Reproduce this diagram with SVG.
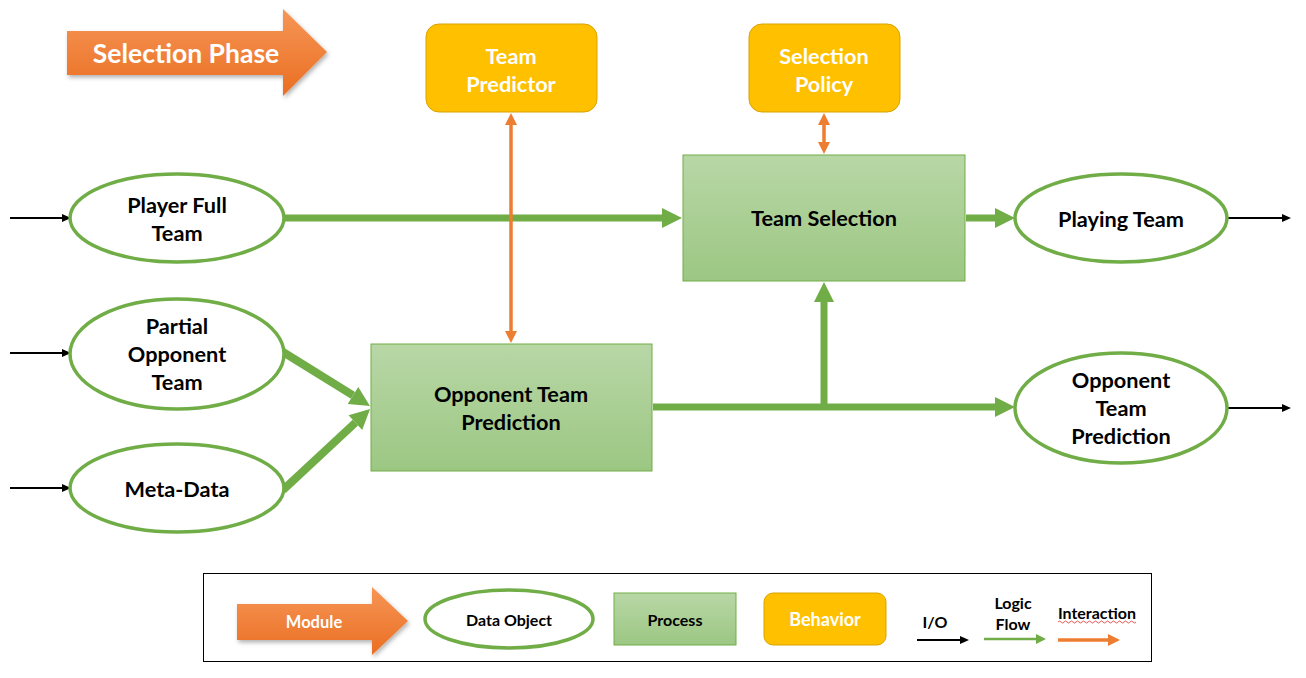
<svg xmlns="http://www.w3.org/2000/svg" width="1306" height="678" viewBox="0 0 1306 678">
<defs>
<style>
.t{font-family:Lato,"Liberation Sans",sans-serif;font-weight:bold;text-anchor:middle;dominant-baseline:central}
.m{font-size:21.7px}
.s{font-size:16px}
.w{fill:#fff}
.k{fill:#000}
.ell{fill:#fff;stroke:#70AD47;stroke-width:3.5}
.proc{fill:url(#gg);stroke:#70AD47;stroke-width:1}
.beh{fill:#FFC000;stroke:#D9A300;stroke-width:1}
.g{stroke:#70AD47;fill:none}
.o{stroke:#ED7D31;fill:none;stroke-width:3.5}
.b{stroke:#000;fill:none;stroke-width:2}
</style>
<linearGradient id="gg" x1="0" y1="0" x2="0" y2="1"><stop offset="0" stop-color="#B8D7A6"/><stop offset="1" stop-color="#9CC783"/></linearGradient>
<linearGradient id="og" x1="0" y1="0" x2="0" y2="1"><stop offset="0" stop-color="#F69656"/><stop offset="1" stop-color="#EA6E22"/></linearGradient>
<filter id="sh" x="-10%" y="-10%" width="130%" height="140%"><feDropShadow dx="1.5" dy="2.5" stdDeviation="2" flood-color="#000" flood-opacity="0.3"/></filter>
<marker id="gh" markerUnits="userSpaceOnUse" markerWidth="22" markerHeight="22" refX="0" refY="10" orient="auto" overflow="visible"><path d="M0,0 L20,10 L0,20 z" fill="#70AD47"/></marker>
<marker id="ghs" markerUnits="userSpaceOnUse" markerWidth="14" markerHeight="14" refX="0" refY="5" orient="auto" overflow="visible"><path d="M0,0 L10,5 L0,10 z" fill="#70AD47"/></marker>
<marker id="oh" markerUnits="userSpaceOnUse" markerWidth="14" markerHeight="14" refX="0" refY="6" orient="auto-start-reverse" overflow="visible"><path d="M0,0 L12,6 L0,12 z" fill="#ED7D31"/></marker>
<marker id="bh" markerUnits="userSpaceOnUse" markerWidth="10" markerHeight="10" refX="0" refY="4" orient="auto" overflow="visible"><path d="M0,0 L9,4 L0,8 z" fill="#000"/></marker>
</defs>
<rect width="1306" height="678" fill="#fff"/>

<g id="phase">
<path d="M67,31 L283,31 L283,9 L327,52 L283,96 L283,75 L67,75 z" fill="url(#og)" filter="url(#sh)"/>
<text class="t w" x="186" y="53" font-size="26.5">Selection Phase</text>
</g>

<g id="connectors">
<line class="b" x1="10" y1="218" x2="62" y2="218" marker-end="url(#bh)"/>
<line class="b" x1="10" y1="353" x2="62" y2="353" marker-end="url(#bh)"/>
<line class="b" x1="10" y1="488" x2="62" y2="488" marker-end="url(#bh)"/>
<line class="b" x1="1228" y1="218" x2="1282" y2="218" marker-end="url(#bh)"/>
<line class="b" x1="1228" y1="408" x2="1282" y2="408" marker-end="url(#bh)"/>
<line class="g" stroke-width="7" x1="285" y1="218" x2="662" y2="218" marker-end="url(#gh)"/>
<line class="g" stroke-width="7" x1="966" y1="218" x2="995" y2="218" marker-end="url(#gh)"/>
<line class="g" stroke-width="7" x1="653" y1="407" x2="995" y2="407" marker-end="url(#gh)"/>
<line class="g" stroke-width="7" x1="824" y1="410" x2="824" y2="302" marker-end="url(#gh)"/>
<line class="g" stroke-width="8" x1="283" y1="352" x2="353" y2="395.4" marker-end="url(#gh)"/>
<line class="g" stroke-width="8" x1="283" y1="490" x2="355.4" y2="422.6" marker-end="url(#gh)"/>
<line class="o" x1="511" y1="125" x2="511" y2="331" marker-start="url(#oh)" marker-end="url(#oh)"/>
<line class="o" x1="824" y1="125" x2="824" y2="142" marker-start="url(#oh)" marker-end="url(#oh)"/>
</g>

<g id="team-predictor">
<rect class="beh" x="426" y="24" width="171" height="88" rx="13"/>
<text class="t w m" x="511" y="56">Team</text>
<text class="t w m" x="511" y="84">Predictor</text>
</g>
<g id="selection-policy">
<rect class="beh" x="749" y="24" width="151" height="88" rx="13"/>
<text class="t w m" x="824" y="56">Selection</text>
<text class="t w m" x="824" y="84">Policy</text>
</g>
<g id="team-selection">
<rect class="proc" x="683" y="155" width="282" height="126"/>
<text class="t k m" x="824" y="218">Team Selection</text>
</g>
<g id="opponent-team-prediction-process">
<rect class="proc" x="371" y="344" width="281" height="127"/>
<text class="t k m" x="511" y="394">Opponent Team</text>
<text class="t k m" x="511" y="422">Prediction</text>
</g>
<g id="player-full-team">
<ellipse class="ell" cx="177" cy="218" rx="107" ry="44"/>
<text class="t k m" x="177" y="205">Player Full</text>
<text class="t k m" x="177" y="233">Team</text>
</g>
<g id="partial-opponent-team">
<ellipse class="ell" cx="177" cy="354" rx="107" ry="55"/>
<text class="t k m" x="177" y="326">Partial</text>
<text class="t k m" x="177" y="354">Opponent</text>
<text class="t k m" x="177" y="382">Team</text>
</g>
<g id="meta-data">
<ellipse class="ell" cx="177" cy="488" rx="107" ry="44"/>
<text class="t k m" x="177" y="489">Meta-Data</text>
</g>
<g id="playing-team">
<ellipse class="ell" cx="1121" cy="218" rx="106" ry="44"/>
<text class="t k m" x="1121" y="219">Playing Team</text>
</g>
<g id="opponent-team-prediction-data">
<ellipse class="ell" cx="1121" cy="408" rx="106" ry="55"/>
<text class="t k m" x="1121" y="380">Opponent</text>
<text class="t k m" x="1121" y="408">Team</text>
<text class="t k m" x="1121" y="436">Prediction</text>
</g>

<g id="legend">
<rect x="203.5" y="573.5" width="948" height="88" fill="#fff" stroke="#000" stroke-width="1"/>
<path d="M237,604 L372,604 L372,587 L408,621 L372,655 L372,640 L237,640 z" fill="url(#og)" filter="url(#sh)"/>
<text class="t w" x="314" y="622" font-size="16.5">Module</text>
<ellipse class="ell" cx="509" cy="619" rx="84" ry="29"/>
<text class="t k s" x="509" y="619">Data Object</text>
<rect class="proc" x="614" y="593" width="122" height="52"/>
<text class="t k s" x="675" y="619">Process</text>
<rect class="beh" x="764" y="593" width="122" height="52" rx="9"/>
<text class="t w" x="825" y="619" font-size="18">Behavior</text>
<text class="t k s" x="935" y="621">I/O</text>
<line class="b" stroke-width="3" x1="917" y1="640" x2="960" y2="640" marker-end="url(#bh)"/>
<text class="t k s" x="1013" y="602">Logic</text>
<text class="t k s" x="1013" y="623">Flow</text>
<line class="g" stroke-width="2.5" x1="984" y1="639" x2="1036" y2="639" marker-end="url(#ghs)"/>
<text class="t k s" x="1097" y="612">Interaction</text>
<path d="M1058,622 q1.5,-2 3,0 t3,0 t3,0 t3,0 t3,0 t3,0 t3,0 t3,0 t3,0 t3,0 t3,0 t3,0 t3,0 t3,0 t3,0 t3,0 t3,0 t3,0 t3,0 t3,0 t3,0 t3,0 t3,0 t3,0 t3,0 t3,0" fill="none" stroke="#E03030" stroke-width="0.8"/>
<line class="o" stroke-width="3" x1="1058" y1="640" x2="1108" y2="640" marker-end="url(#oh)"/>
</g>
</svg>
